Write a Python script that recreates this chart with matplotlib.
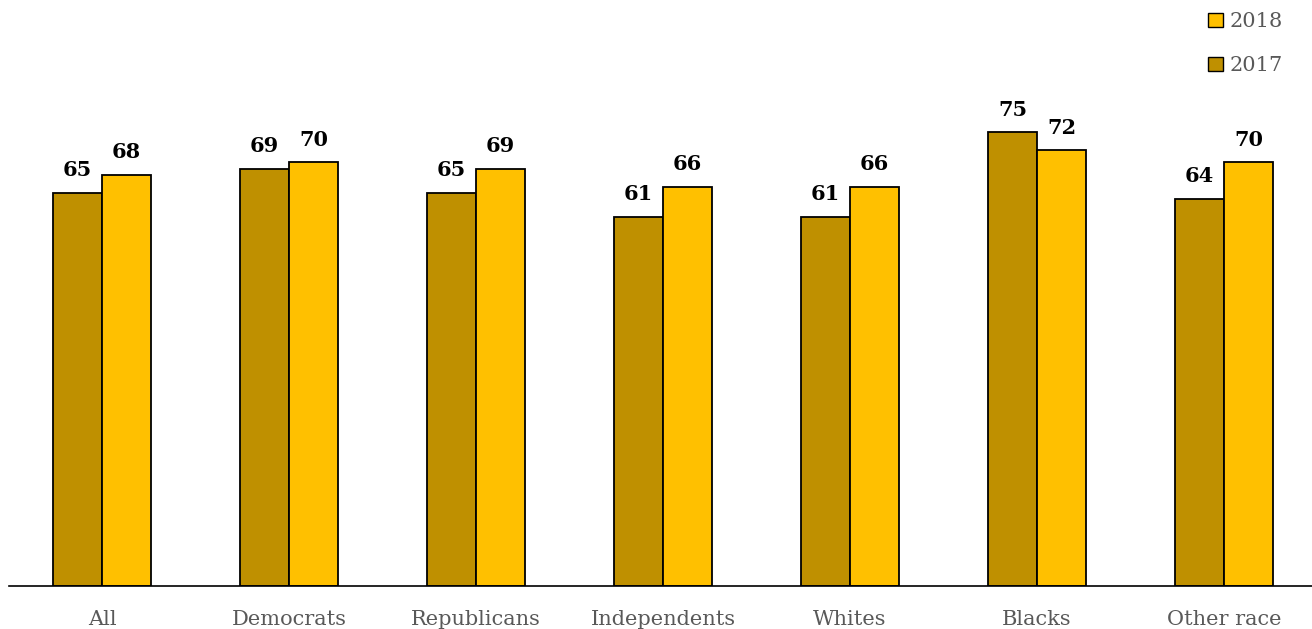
import numpy as np
import matplotlib.pyplot as plt
from matplotlib.patches import Patch

categories = ["All", "Democrats", "Republicans", "Independents", "Whites", "Blacks", "Other race"]
vals_2017 = [65, 69, 65, 61, 61, 75, 64]
vals_2018 = [68, 70, 69, 66, 66, 72, 70]

C2017 = "#BF9000"
C2018 = "#FFC000"
GRAY = "#595959"

plt.rcParams["font.family"] = ["DejaVu Serif"]

fig = plt.figure(figsize=(13.12, 6.29), dpi=100)
ax = fig.add_axes([8.5 / 1312, 43 / 629, 1309 / 1312, 586 / 629])

x = np.arange(len(categories))
w = 0.262
b1 = ax.bar(x - w / 2, vals_2017, w, color=C2017, edgecolor="black", linewidth=1.3, label="2017")
b2 = ax.bar(x + w / 2, vals_2018, w, color=C2018, edgecolor="black", linewidth=1.3, label="2018")

for bars in (b1, b2):
    for r in bars:
        ax.annotate(f"{r.get_height():.0f}", (r.get_x() + r.get_width() / 2, r.get_height()),
                    xytext=(0, 9), textcoords="offset points", ha="center", va="bottom",
                    fontsize=15, fontweight="bold", color="black")

ax.set_xlim(-0.5, len(categories) - 0.5)
ax.set_ylim(0, 586 / 6.05)
ax.set_xticks(x)
ax.set_xticklabels(categories, fontsize=15, color=GRAY)
ax.tick_params(axis="x", length=0, pad=17)
ax.set_yticks([])
for s in ("top", "right", "left"):
    ax.spines[s].set_visible(False)
ax.spines["bottom"].set_color("black")
ax.spines["bottom"].set_linewidth(1.2)

handles = [Patch(facecolor=C2018, edgecolor="black", label="2018"),
           Patch(facecolor=C2017, edgecolor="black", label="2017")]
leg = fig.legend(handles=handles, loc="upper right", bbox_to_anchor=(1295 / 1312, 1.0), frameon=False,
                 fontsize=15, labelcolor=GRAY, handlelength=0.7, handleheight=0.7,
                 handletextpad=0.3, labelspacing=1.2, borderaxespad=0.2)

fig.savefig("out.png", dpi=100)
